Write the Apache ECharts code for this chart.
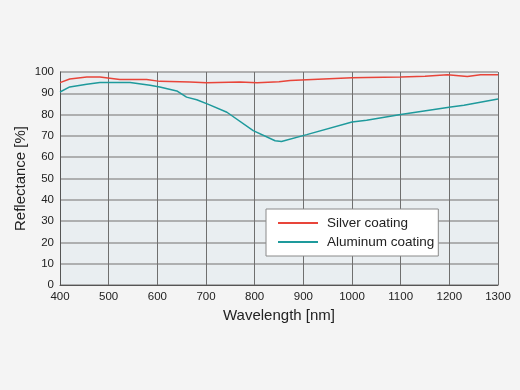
<!DOCTYPE html>
<html><head><meta charset="utf-8">
<script src="https://cdn.jsdelivr.net/npm/echarts@6/dist/echarts.min.js"></script>
<style>html,body{margin:0;padding:0;background:#f4f4f4;}#c{width:520px;height:390px;}</style>
</head><body><div id="c"></div>
<script>
const silverWl = [400,420,455,482,523,578,605,667,701,770,805,850,873,907,1000,1030,1100,1150,1196,1237,1264,1300];
const silverR  = [95.0,96.7,97.6,97.6,96.5,96.5,95.6,95.3,94.9,95.3,94.9,95.4,96.0,96.4,97.3,97.4,97.7,98.0,98.7,97.9,98.7,98.7];
const alWl = [400,420,455,482,544,585,605,640,660,681,705,743,797,842,845,855,907,1000,1030,1100,1203,1230,1300];
const alR  = [90.6,93.0,94.3,95.1,95.1,93.8,93.0,91.1,88.2,87.0,84.8,81.1,72.5,67.7,68.6,67.4,70.6,76.5,77.3,80.1,83.6,84.4,87.3];
const xTicks = [400,500,600,700,800,900,1000,1100,1200,1300];
const seriesNames = ['Silver coating','Aluminum coating'];

const font = '"Liberation Sans", Arial, sans-serif';
const chart = echarts.init(document.getElementById('c'));
chart.setOption({
  backgroundColor:'#f4f4f4',
  animation:false,
  grid:{left:60,right:22,top:72,bottom:105,show:true,backgroundColor:'#e9eef1',borderWidth:0},
  xAxis:{type:'value',min:400,max:1300,interval:100,
    name:'Wavelength [nm]',nameLocation:'middle',nameGap:23,nameMoveOverlap:false,
    nameTextStyle:{fontFamily:font,fontSize:15,color:'#222'},
    axisLine:{show:true,lineStyle:{color:'#555',width:1}},
    axisTick:{show:false},
    axisLabel:{fontFamily:font,fontSize:11.5,color:'#222',margin:6,
      formatter:v=>xTicks.includes(v)?String(v):''},
    splitLine:{show:true,lineStyle:{color:'#6f6f6f',width:1}}},
  yAxis:{type:'value',min:0,max:100,interval:10,
    name:'Reflectance [%]',nameLocation:'middle',nameGap:32,nameRotate:90,nameMoveOverlap:false,
    nameTextStyle:{fontFamily:font,fontSize:15,color:'#222'},
    axisLine:{show:true,lineStyle:{color:'#555',width:1}},
    axisTick:{show:false},
    axisLabel:{fontFamily:font,fontSize:11.5,color:'#222',margin:6},
    splitLine:{show:true,lineStyle:{color:'#9a9a9a',width:1.5}}},
  legend:{orient:'vertical',left:266,top:209,
    backgroundColor:'#ffffff',borderColor:'#8a8a8a',borderWidth:1,
    padding:[7,4,7,12],itemGap:5,itemWidth:40,itemHeight:2,
    icon:'rect',
    textStyle:{fontFamily:font,fontSize:13.5,color:'#222',padding:[0,0,0,4]},
    data:seriesNames},
  series:[
    {name:seriesNames[0],type:'line',showSymbol:false,symbol:'none',
      color:'#e8453a',lineStyle:{width:1.5,color:'#e8453a'},
      data:silverWl.map((w,i)=>[w,silverR[i]])},
    {name:seriesNames[1],type:'line',showSymbol:false,symbol:'none',
      color:'#1e9a9c',lineStyle:{width:1.5,color:'#1e9a9c'},
      data:alWl.map((w,i)=>[w,alR[i]])}
  ]
});
</script></body></html>
